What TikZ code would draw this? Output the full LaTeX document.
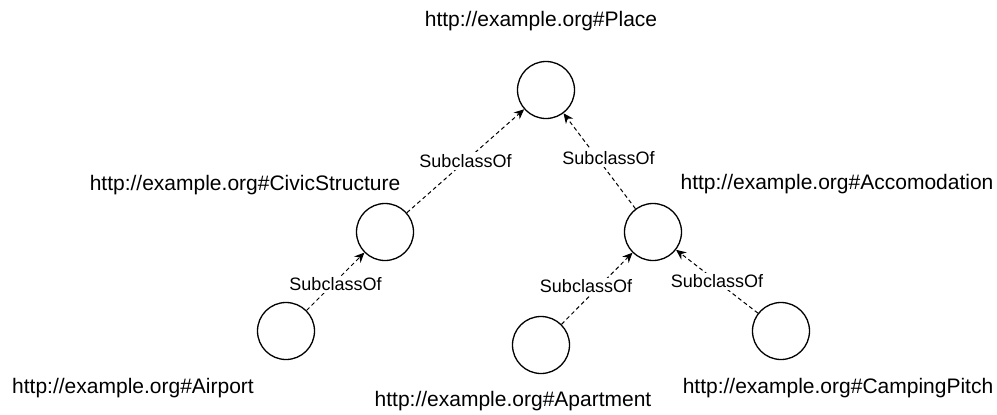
\documentclass[tikz,border=0pt]{standalone}
\usepackage{fontspec}
\setmainfont{Liberation Sans}
\usetikzlibrary{positioning,arrows.meta}

\begin{document}
\begin{tikzpicture}[
	x=0.5pt, y=-0.5pt,
	classe/.style={circle, draw, line width=0.65pt, minimum size=28.5pt, inner sep=0pt},
	iri/.style={font=\fontsize{10.5}{12}\selectfont, inner sep=0pt},
	subclass/.style={-{Stealth[length=5pt,width=4.5pt]}, dash pattern=on 2pt off 1.5pt, line width=0.5pt},
	etichetta/.style={font=\fontsize{9}{10}\selectfont, fill=white, inner sep=1pt}
	]
	\useasboundingbox (0,0) rectangle (997,414);
	% Classi
	\node[classe] (place) at (546,90) {};
	\node[classe] (civic) at (385,232) {};
	\node[classe] (accomodation) at (653,232) {};
	\node[classe] (airport) at (286,331) {};
	\node[classe] (apartment) at (541,345) {};
	\node[classe] (camping) at (781,331) {};
	
	% IRI
	\node[iri] (placeiri) at (541,21) {http://example.org\#Place};
	\node[iri] (civiciri) at (245,185) {http://example.org\#CivicStructure};
	\node[iri] (accomodationiri) at (837,184) {http://example.org\#Accomodation};
	\node[iri] (airportiri) at (133,388) {http://example.org\#Airport};
	\node[iri] (apartmentiri) at (513,401) {http://example.org\#Apartment};
	\node[iri] (campingiri) at (838,388) {http://example.org\#CampingPitch};
	
	% SubclassOf
	\draw[subclass] (civic) -- node[etichetta] {SubclassOf} (place);
	\draw[subclass] (accomodation) -- node[etichetta, xshift=4.5pt, yshift=1.5pt] {SubclassOf} (place);
	\draw[subclass] (airport) -- node[etichetta, yshift=-1.5pt] {SubclassOf} (civic);
	\draw[subclass] (apartment) -- node[etichetta, xshift=-5.5pt, yshift=1pt] {SubclassOf} (accomodation);
	\draw[subclass] (camping) -- node[etichetta] {SubclassOf} (accomodation);
\end{tikzpicture}
\end{document}
